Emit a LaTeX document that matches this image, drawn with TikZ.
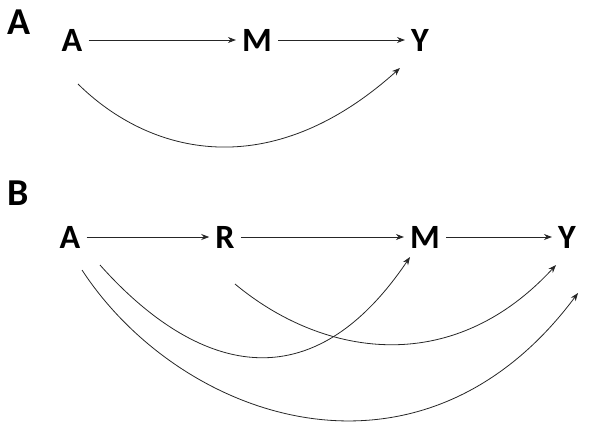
\documentclass[tikz,border=0pt]{standalone}
\usepackage{fontspec}
\setmainfont{Carlito}
\usetikzlibrary{arrows.meta}
\begin{document}
\begin{tikzpicture}[x=1pt,y=-1pt,
  var/.style={font=\fontsize{34}{36}\selectfont\bfseries, inner sep=6pt},
  panel/.style={font=\fontsize{38}{40}\selectfont\bfseries, inner sep=0pt},
  arr/.style={-{Stealth[length=8pt,width=6pt]}, line width=0.8pt, draw=black!85}]
\useasboundingbox (0,0) rectangle (600,445);
\node[panel] (pa) at (19,22) {A};
\node[var] (a1) at (72,40) {A};
\node[var] (m1) at (257,40) {M};
\node[var] (y1) at (420,40) {Y};
\draw[arr] (a1) -- (m1);
\draw[arr] (m1) -- (y1);
\coordinate (c1s) at (78,84);
\coordinate (c1e) at (400,68);
\draw[arr] (c1s) .. controls (150,155) and (270,185) .. (c1e);

\node[panel] (pb) at (18,193) {B};
\node[var] (a2) at (70,237) {A};
\node[var] (r2) at (225,237) {R};
\node[var] (m2) at (425,237) {M};
\node[var] (y2) at (567,237) {Y};
\draw[arr] (a2) -- (r2);
\draw[arr] (r2) -- (m2);
\draw[arr] (m2) -- (y2);
\coordinate (s1) at (100,265);
\coordinate (e1) at (410,257);
\draw[arr] (s1) .. controls (180,355) and (300,420) .. (e1);
\coordinate (s2) at (235,284);
\coordinate (e2) at (556,265);
\draw[arr] (s2) .. controls (320,355) and (450,380) .. (e2);
\coordinate (s3) at (82,270);
\coordinate (e3) at (578,293);
\draw[arr] (s3) .. controls (180,420) and (420,505) .. (e3);
\end{tikzpicture}
\end{document}
